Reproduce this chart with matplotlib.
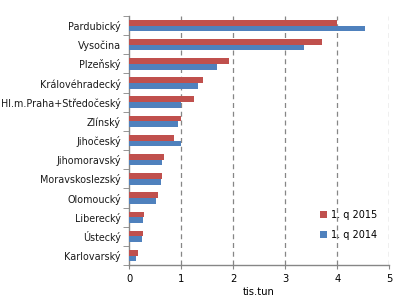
import matplotlib
matplotlib.use("Agg")
import matplotlib.pyplot as plt
import numpy as np

categories = ["Pardubický", "Vysočina", "Plzeňský", "Královéhradecký",
              "Hl.m.Praha+Středočeský", "Zlínský", "Jihočeský", "Jihomoravský",
              "Moravskoslezský", "Olomoucký", "Liberecký", "Ústecký", "Karlovarský"]
q2015 = [4.00, 3.71, 1.92, 1.42, 1.24, 0.99, 0.86, 0.66, 0.64, 0.545, 0.28, 0.26, 0.16]
q2014 = [4.53, 3.36, 1.69, 1.32, 1.00, 0.94, 1.00, 0.64, 0.62, 0.51, 0.26, 0.24, 0.14]
labels = ["1. q 2015", "1. q 2014"]
xticks = [0, 1, 2, 3, 4, 5]

plt.rcParams['font.family'] = ['DejaVu Sans']
fig = plt.figure(figsize=(4.05, 3.01), dpi=100)
ax = fig.add_axes([0.319, 0.119, 0.642, 0.828])

n = len(categories)
y = np.arange(n)[::-1].astype(float)
h = 0.3
red = "#C0504D"
blue = "#4F81BD"
ax.barh(y + h / 2, q2015, height=h, color=red, label=labels[0], zorder=3)
ax.barh(y - h / 2, q2014, height=h, color=blue, label=labels[1], zorder=3)

ax.set_ylim(-0.5, n - 0.5)
ax.set_xlim(0, 5)
ax.set_yticks(y)
ax.set_yticklabels(categories, fontsize=6.9, color="#1a1a1a")
ax.set_yticks(np.arange(-0.5, n, 1.0), minor=True)
ax.tick_params(axis='y', which='major', length=0, pad=6)
ax.tick_params(axis='y', which='minor', length=4, color="#868686", direction='out')
ax.set_xticks(xticks)
ax.set_xticklabels([str(t) for t in xticks], fontsize=7.2)
ax.tick_params(axis='x', length=3, color="#868686", direction='out')
ax.xaxis.grid(True, linestyle=(0, (4, 3)), color="#868686", linewidth=0.9, zorder=0)
for t in ax.xaxis.get_gridlines()[:1]:
    t.set_visible(False)
for s in ["top", "right"]:
    ax.spines[s].set_visible(False)
for s in ["left", "bottom"]:
    ax.spines[s].set_color("#868686")
    ax.spines[s].set_linewidth(1.0)
ax.set_xlabel("tis.tun", fontsize=7.2, labelpad=2)

leg = ax.legend(loc="lower left", bbox_to_anchor=(0.7, 0.065), frameon=False,
                fontsize=7, handlelength=0.7, handleheight=0.7,
                handletextpad=0.4, labelspacing=1.05)

fig.savefig("out.png", dpi=100)
